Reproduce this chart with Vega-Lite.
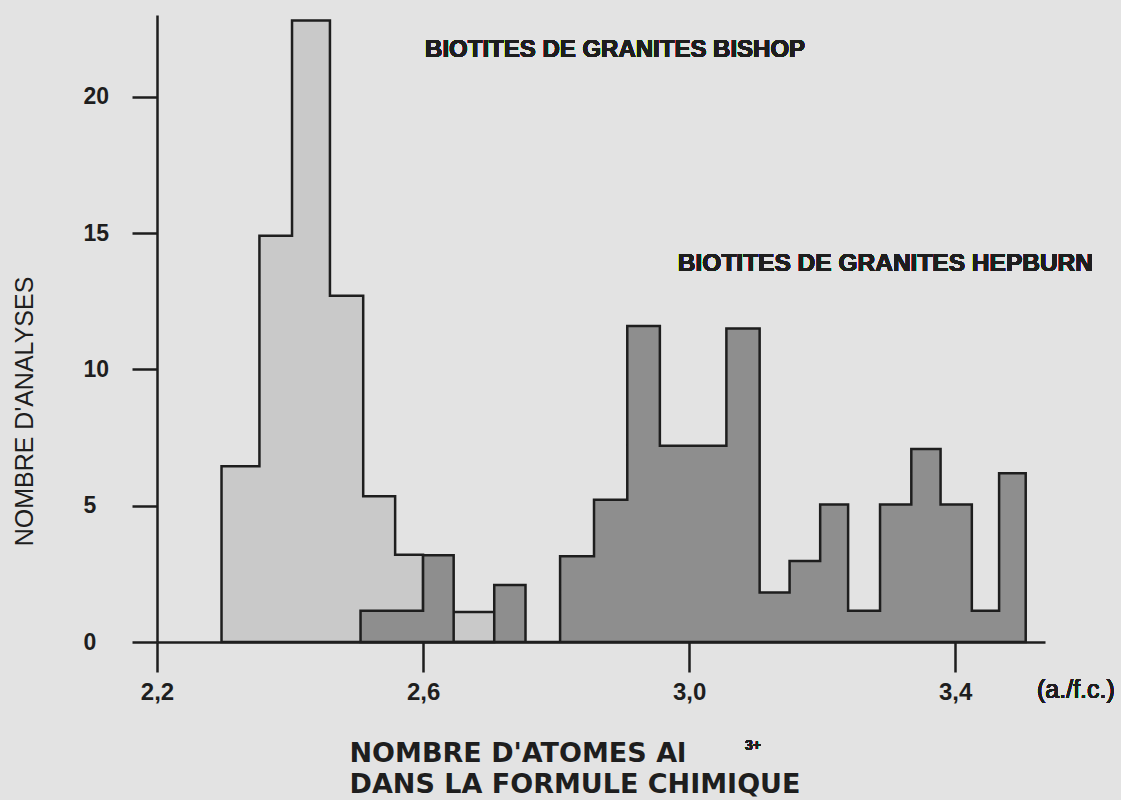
{
  "$schema": "https://vega.github.io/schema/vega-lite/v6.json",
  "width": 888,
  "height": 627,
  "autosize": {"type": "none"},
  "padding": {"left": 157, "top": 15, "right": 76, "bottom": 158},
  "background": "#e3e3e3",
  "config": {"view": {"stroke": null}, "axis": {"grid": false}},
  "data": {
    "values": [
      {"series": "Bishop", "x0": 2.297, "x1": 2.354, "count": 6.45},
      {"series": "Bishop", "x0": 2.354, "x1": 2.403, "count": 14.9},
      {"series": "Bishop", "x0": 2.403, "x1": 2.46, "count": 22.8},
      {"series": "Bishop", "x0": 2.46, "x1": 2.51, "count": 12.7},
      {"series": "Bishop", "x0": 2.51, "x1": 2.558, "count": 5.35},
      {"series": "Bishop", "x0": 2.558, "x1": 2.6, "count": 3.2},
      {"series": "Bishop", "x0": 2.6, "x1": 2.707, "count": 1.1},
      {"series": "Hepburn", "x0": 2.506, "x1": 2.6, "count": 1.15},
      {"series": "Hepburn", "x0": 2.6, "x1": 2.646, "count": 3.18},
      {"series": "Hepburn", "x0": 2.646, "x1": 2.707, "count": 0},
      {"series": "Hepburn", "x0": 2.707, "x1": 2.754, "count": 2.09},
      {"series": "Hepburn", "x0": 2.754, "x1": 2.806, "count": 0},
      {"series": "Hepburn", "x0": 2.806, "x1": 2.857, "count": 3.15},
      {"series": "Hepburn", "x0": 2.857, "x1": 2.907, "count": 5.22},
      {"series": "Hepburn", "x0": 2.907, "x1": 2.956, "count": 11.59},
      {"series": "Hepburn", "x0": 2.956, "x1": 3.056, "count": 7.2},
      {"series": "Hepburn", "x0": 3.056, "x1": 3.106, "count": 11.5},
      {"series": "Hepburn", "x0": 3.106, "x1": 3.151, "count": 1.82},
      {"series": "Hepburn", "x0": 3.151, "x1": 3.197, "count": 2.97},
      {"series": "Hepburn", "x0": 3.197, "x1": 3.239, "count": 5.04},
      {"series": "Hepburn", "x0": 3.239, "x1": 3.287, "count": 1.15},
      {"series": "Hepburn", "x0": 3.287, "x1": 3.334, "count": 5.04},
      {"series": "Hepburn", "x0": 3.334, "x1": 3.378, "count": 7.08},
      {"series": "Hepburn", "x0": 3.378, "x1": 3.425, "count": 5.04},
      {"series": "Hepburn", "x0": 3.425, "x1": 3.466, "count": 1.15},
      {"series": "Hepburn", "x0": 3.466, "x1": 3.506, "count": 6.19}
    ]
  },
  "layer": [
    {
      "transform": [
        {"filter": "datum.series === 'Bishop'"},
        {"fold": ["x0", "x1"], "as": ["edge", "xpos"]}
      ],
      "mark": {"type": "area", "interpolate": "linear", "fill": "#c9c9c9", "fillOpacity": 1, "stroke": "#1e1e1e", "strokeWidth": 2.5, "strokeJoin": "miter"},
      "encoding": {
        "x": {
          "field": "xpos",
          "type": "quantitative",
          "scale": {"domain": [2.2, 3.535], "nice": false, "zero": false},
          "axis": {
            "values": [2.2, 2.6, 3.0, 3.4],
            "labelExpr": "replace(format(datum.value, '.1f'), '.', ',')",
            "labelFlush": false,
            "tickSize": 30,
            "tickWidth": 2.5,
            "tickColor": "#1e1e1e",
            "domainColor": "#1e1e1e",
            "domainWidth": 2.5,
            "labelFont": "Liberation Sans Narrow, Liberation Sans",
            "labelFontSize": 24,
            "labelFontWeight": "bold",
            "labelColor": "#1e1e1e",
            "labelPadding": 8,
            "title": ["NOMBRE D'ATOMES Al", "DANS LA FORMULE CHIMIQUE"],
            "titleFont": "DejaVu Sans",
            "titleFontSize": 27,
            "titleFontWeight": "bold",
            "titleColor": "#1e1e1e",
            "titleX": 192,
            "titleY": 119,
            "titleAlign": "left",
            "titleAnchor": "start",
            "titleBaseline": "alphabetic",
            "titleLineHeight": 31.5
          }
        },
        "y": {
          "field": "count",
          "type": "quantitative",
          "stack": null,
          "scale": {"domain": [0, 23], "nice": false},
          "axis": {
            "values": [0, 5, 10, 15, 20],
            "labelFlush": false,
            "tickSize": 25,
            "tickWidth": 2.5,
            "tickColor": "#1e1e1e",
            "domainColor": "#1e1e1e",
            "domainWidth": 2.5,
            "labelFont": "Liberation Sans",
            "labelFontSize": 23,
            "labelFontWeight": "bold",
            "labelColor": "#1e1e1e",
            "labelAlign": "left",
            "labelBaseline": "middle",
            "labelPadding": 49,
            "title": "NOMBRE  D'ANALYSES",
            "titleFont": "Liberation Sans",
            "titleFontSize": 25,
            "titleFontWeight": "normal",
            "titleColor": "#1e1e1e",
            "titleAngle": -90,
            "titleX": -133,
            "titleY": 396,
            "titleAlign": "center",
            "titleBaseline": "middle"
          }
        }
      }
    },
    {
      "transform": [
        {"filter": "datum.series === 'Hepburn'"},
        {"fold": ["x0", "x1"], "as": ["edge", "xpos"]}
      ],
      "mark": {"type": "area", "interpolate": "linear", "fill": "#8e8e8e", "fillOpacity": 1, "stroke": "#1e1e1e", "strokeWidth": 2.5, "strokeJoin": "miter"},
      "encoding": {
        "x": {"field": "xpos", "type": "quantitative"},
        "y": {"field": "count", "type": "quantitative", "stack": null}
      }
    },
    {
      "mark": {"type": "text", "align": "left", "baseline": "alphabetic", "font": "Liberation Sans", "fontSize": 24, "fontWeight": "bold", "color": "#1e1e1e"},
      "encoding": {"x": {"datum": 2.603}, "y": {"datum": 21.47}, "text": {"value": "BIOTITES DE GRANITES BISHOP"}}
    },
    {
      "mark": {"type": "text", "align": "left", "baseline": "alphabetic", "font": "Liberation Sans", "fontSize": 24.5, "fontWeight": "bold", "color": "#1e1e1e"},
      "encoding": {"x": {"datum": 2.983}, "y": {"datum": 13.6}, "text": {"value": "BIOTITES DE GRANITES HEPBURN"}}
    },
    {
      "mark": {"type": "text", "align": "left", "baseline": "alphabetic", "font": "Liberation Sans Narrow, Liberation Sans", "fontSize": 25, "color": "#1e1e1e"},
      "encoding": {"x": {"datum": 3.523}, "y": {"datum": -2.05}, "text": {"value": "(a./f.c.)"}}
    },
    {
      "mark": {"type": "text", "align": "left", "baseline": "alphabetic", "font": "Liberation Sans", "fontSize": 14, "fontWeight": "bold", "color": "#1e1e1e"},
      "encoding": {"x": {"datum": 3.084}, "y": {"datum": -3.96}, "text": {"value": "3+"}}
    }
  ]
}
